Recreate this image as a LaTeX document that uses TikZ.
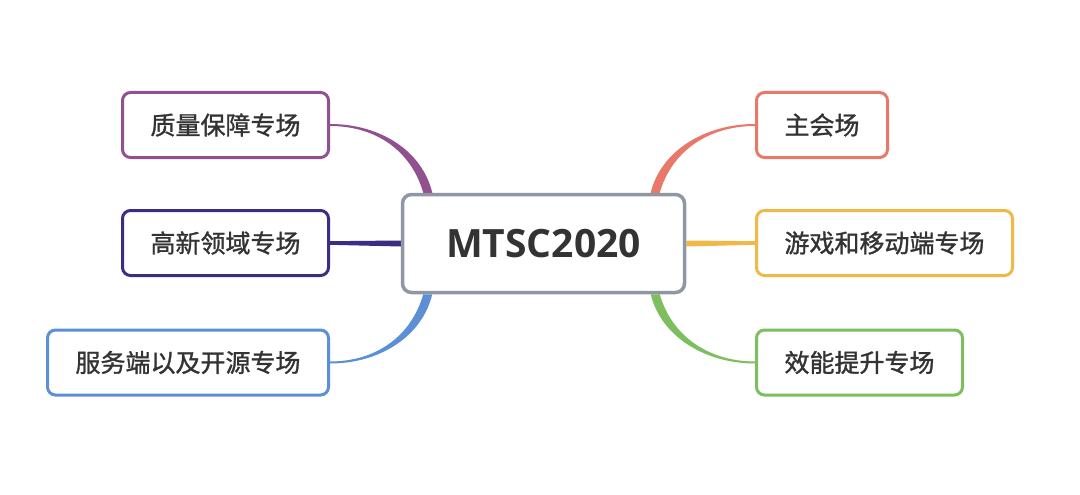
\documentclass[tikz,border=0pt]{standalone}
\usepackage{fontspec}
\usepackage{tikz}
\usetikzlibrary{calc}
\usetikzlibrary{backgrounds}
\newfontfamily\cjk{Noto Sans CJK SC}[RawFeature={embolden=1.2}]
\newfontfamily\titlefont{Open Sans}[BoldFont={* Bold}]
\definecolor{txtgray}{HTML}{333333}
\definecolor{hubgray}{HTML}{8E97A3}
\definecolor{qpurple}{HTML}{915090}
\definecolor{gindigo}{HTML}{3C2D84}
\definecolor{fblue}{HTML}{5B8FD6}
\definecolor{zsalmon}{HTML}{E8786A}
\definecolor{ygold}{HTML}{F0B847}
\definecolor{xgreen}{HTML}{7DBE5F}
\tikzset{
  topic/.style={draw, line width=3pt, rounded corners=8pt, fill=white,
    minimum height=65pt, inner xsep=28pt, text=txtgray,
    font=\cjk\fontsize{25}{29}\selectfont},
  hub/.style={draw=hubgray, line width=3.5pt, rounded corners=9pt, fill=white,
    minimum width=282pt, minimum height=98pt, text=txtgray,
    font=\titlefont\bfseries\fontsize{39}{44}\selectfont}
}

\begin{document}
\begin{tikzpicture}[x=1pt,y=-1pt]
\useasboundingbox (0,0) rectangle (1080,495);
%%% Draws centre
\node[hub] (c) at (543.5,243.5) {MTSC2020};
%%% Draws left topics
\node[topic, draw=qpurple, anchor=east] (q) at (330,125) {质量保障专场};
\node[topic, draw=gindigo, anchor=east] (g) at (330,243) {高新领域专场};
\node[topic, draw=fblue, anchor=east] (f) at (330,362.5) {服务端以及开源专场};
%%% Draws right topics
\node[topic, draw=zsalmon, anchor=west] (z) at (755,125) {主会场};
\node[topic, draw=ygold, anchor=west] (y) at (755,243) {游戏和移动端专场};
\node[topic, draw=xgreen, anchor=west] (x) at (755,362.5) {效能提升专场};
%%% Draws branches
\begin{scope}[on background layer]
\fill[white] (0,0) rectangle (1080,495);
% top branches
\coordinate (cq) at ($(c.north west)+(27,0)$);
\coordinate (cz) at ($(c.north east)+(-31,0)$);
\fill[qpurple] ([yshift=1pt]q.east) .. controls +(50,0) and +(-10,-42) .. ($(cq)+(4.5,0)$)
  -- ($(cq)+(-4.5,0)$) .. controls +(-12,-42) and +(46,0) .. ([yshift=-1pt]q.east) -- cycle;
\fill[zsalmon] ([yshift=1pt]z.west) .. controls +(-50,0) and +(10,-42) .. ($(cz)+(-4.5,0)$)
  -- ($(cz)+(4.5,0)$) .. controls +(12,-42) and +(-46,0) .. ([yshift=-1pt]z.west) -- cycle;
% middle branches
\fill[gindigo] ([yshift=1.8pt]g.east) -- ([yshift=3pt]c.west) -- ([yshift=-3pt]c.west) -- ([yshift=-1.8pt]g.east) -- cycle;
\fill[ygold] ([yshift=1.8pt]y.west) -- ([yshift=3pt]c.east) -- ([yshift=-3pt]c.east) -- ([yshift=-1.8pt]y.west) -- cycle;
% bottom branches
\coordinate (cf) at ($(c.south west)+(27,0)$);
\coordinate (cx) at ($(c.south east)+(-31,0)$);
\fill[fblue] ([yshift=-1pt]f.east) .. controls +(50,0) and +(-10,42) .. ($(cf)+(4.5,0)$)
  -- ($(cf)+(-4.5,0)$) .. controls +(-12,42) and +(46,0) .. ([yshift=1pt]f.east) -- cycle;
\fill[xgreen] ([yshift=-1pt]x.west) .. controls +(-50,0) and +(10,42) .. ($(cx)+(-4.5,0)$)
  -- ($(cx)+(4.5,0)$) .. controls +(12,42) and +(-46,0) .. ([yshift=1pt]x.west) -- cycle;
\end{scope}
\end{tikzpicture}
\end{document}
